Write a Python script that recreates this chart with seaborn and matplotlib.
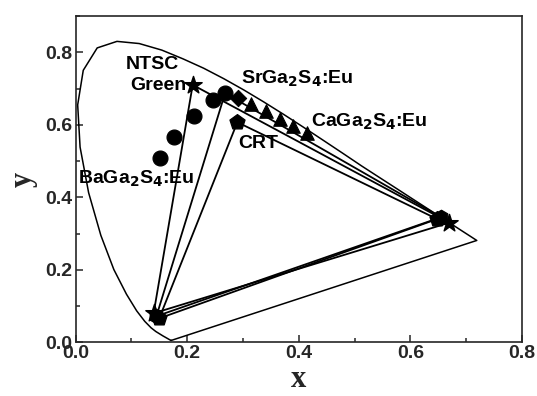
import matplotlib
matplotlib.use("Agg")
import matplotlib.pyplot as plt
from matplotlib.ticker import MultipleLocator
import seaborn as sns
import numpy as np

# CIE 1931 spectral locus (approximate, 420-640 nm) then closed by purple line
locus_x = [0.1714, 0.1689, 0.1644, 0.1566, 0.1440, 0.1355, 0.1241, 0.1096, 0.0913,
           0.0687, 0.0454, 0.0235, 0.0082, 0.0039, 0.0139, 0.0389, 0.0743, 0.1142,
           0.1547, 0.1929, 0.2296, 0.2658, 0.3016, 0.3373, 0.3731, 0.4087, 0.4441,
           0.4788, 0.5125, 0.5448, 0.5752, 0.6029, 0.6270, 0.6658, 0.6915, 0.7079,
           0.7190, 0.1714]
locus_y = [0.0051, 0.0069, 0.0109, 0.0177, 0.0297, 0.0399, 0.0578, 0.0868, 0.1327,
           0.2007, 0.2950, 0.4127, 0.5384, 0.6548, 0.7502, 0.8120, 0.8300, 0.8240,
           0.8059, 0.7816, 0.7560, 0.7270, 0.6960, 0.6630, 0.6285, 0.5930, 0.5570,
           0.5215, 0.4866, 0.4544, 0.4242, 0.3965, 0.3725, 0.3340, 0.3083, 0.2920,
           0.2809, 0.0051]

# Gamut triangles (green, red, blue)
ntsc_x = [0.21, 0.67, 0.14]
ntsc_y = [0.71, 0.33, 0.08]
ba_tri_x = [0.268, 0.655, 0.145]
ba_tri_y = [0.687, 0.345, 0.072]
crt_x = [0.29, 0.648, 0.150]
crt_y = [0.607, 0.340, 0.066]

# Phosphor points
ba_x = [0.151, 0.177, 0.212, 0.247, 0.268]
ba_y = [0.508, 0.566, 0.624, 0.668, 0.687]
sr_x = [0.291]
sr_y = [0.673]
ca_x = [0.314, 0.341, 0.366, 0.390, 0.414]
ca_y = [0.657, 0.637, 0.616, 0.597, 0.577]

sns.set_style("ticks")
plt.rcParams['font.family'] = ['Liberation Sans', 'DejaVu Sans']
plt.rcParams['font.weight'] = 'bold'
plt.rcParams['mathtext.default'] = 'bf'

fig = plt.figure(figsize=(5.37, 3.96), dpi=100)
ax = fig.add_axes([0.1406, 0.1356, 0.8314, 0.824])

sns.lineplot(x=locus_x, y=locus_y, sort=False, estimator=None, color='black', lw=1.1, ax=ax)

for tx, ty in [(ntsc_x, ntsc_y), (ba_tri_x, ba_tri_y), (crt_x, crt_y)]:
    sns.lineplot(x=tx + [tx[0]], y=ty + [ty[0]], sort=False, estimator=None,
                 color='black', lw=1.3, ax=ax)

# vertex markers
sns.scatterplot(x=ntsc_x, y=ntsc_y, marker='*', s=170, color='black', edgecolor='black', ax=ax, zorder=5)
sns.scatterplot(x=ba_tri_x[1:], y=ba_tri_y[1:], marker='h', s=110, color='black', edgecolor='black', ax=ax, zorder=5)
sns.scatterplot(x=crt_x, y=crt_y, marker='p', s=130, color='black', edgecolor='black', ax=ax, zorder=5)

sns.scatterplot(x=ba_x, y=ba_y, marker='o', s=115, color='black', edgecolor='black', ax=ax, zorder=5)
sns.scatterplot(x=sr_x, y=sr_y, marker='D', s=70, color='black', edgecolor='black', ax=ax, zorder=5)
sns.scatterplot(x=ca_x, y=ca_y, marker='^', s=95, color='black', edgecolor='black', ax=ax, zorder=5)

tf = dict(fontsize=14, fontweight='bold', color='black')
ax.text(0.09, 0.765, 'NTSC', ha='left', va='center', **tf)
ax.text(0.198, 0.709, 'Green', ha='right', va='center', **tf)
ax.text(0.297, 0.726, r'SrGa$_2$S$_4$:Eu', ha='left', va='center', **tf)
ax.text(0.422, 0.607, r'CaGa$_2$S$_4$:Eu', ha='left', va='center', **tf)
ax.text(0.292, 0.547, 'CRT', ha='left', va='center', **tf)
ax.text(0.005, 0.450, r'BaGa$_2$S$_4$:Eu', ha='left', va='center', **tf)

ax.set_xlim(0, 0.8)
ax.set_ylim(0, 0.9)
ax.xaxis.set_minor_locator(MultipleLocator(0.1))
ax.yaxis.set_minor_locator(MultipleLocator(0.1))
ax.set_xticks([0.0, 0.2, 0.4, 0.6, 0.8])
ax.set_xticklabels(['0.0', '0.2', '0.4', '0.6', '0.8'])
ax.set_yticks([0.0, 0.2, 0.4, 0.6, 0.8])
ax.set_yticklabels(['0.0', '0.2', '0.4', '0.6', '0.8'])
ax.tick_params(which='both', direction='in', top=False, right=False, width=1.1,
               labelsize=14, pad=2)
ax.tick_params(which='major', length=5)
ax.tick_params(which='minor', length=3)
for lab in ax.get_xticklabels() + ax.get_yticklabels():
    lab.set_fontweight('bold')
for s in ax.spines.values():
    s.set_linewidth(1.2)
    s.set_visible(True)

ax.set_xlabel('x', family='Liberation Serif', fontsize=22, fontweight='bold', labelpad=2)
ax.set_ylabel('y', family='Liberation Serif', fontsize=22, fontweight='bold', labelpad=6)

fig.savefig('out.png', dpi=100)
